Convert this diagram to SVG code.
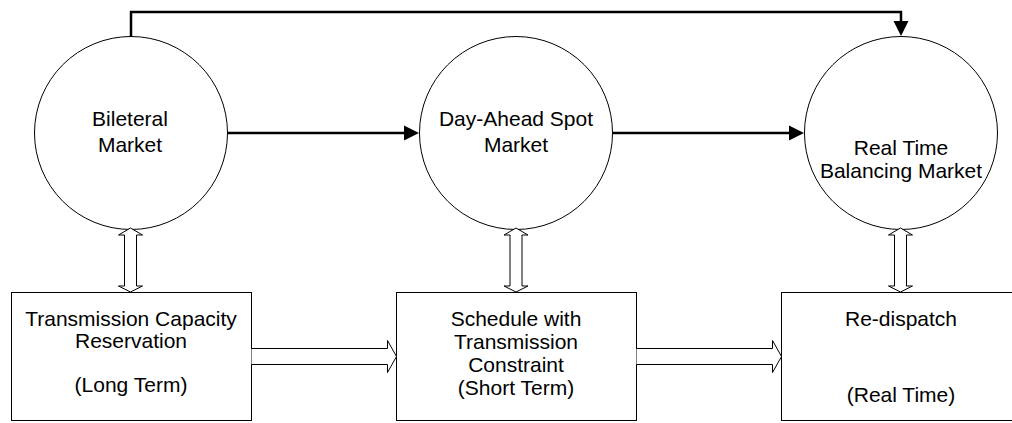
<svg xmlns="http://www.w3.org/2000/svg" width="1012" height="423" viewBox="0 0 1012 423">
  <style>
    .bg { fill: #ffffff; }
    .node { fill: #ffffff; stroke: #000000; stroke-width: 1; }
    .label { font-family: "Liberation Sans", Arial, sans-serif; font-size: 21px; fill: #000000; text-anchor: middle; }
    .flow { fill: none; stroke: #000000; stroke-width: 2.5; }
    .hollow { fill: #ffffff; stroke: #000000; stroke-width: 1; stroke-linejoin: miter; }
  </style>
  <defs>
    <marker id="head" markerUnits="userSpaceOnUse" markerWidth="16" markerHeight="16" refX="0" refY="8" orient="auto" viewBox="0 0 16 16">
      <path d="M0,0.5 L15,8 L0,15.5 Z" fill="#000000"/>
    </marker>
  </defs>

  <rect class="bg" x="0" y="0" width="1012" height="423"/>

  <!-- market nodes -->
  <g id="bilateral-market">
    <circle class="node" cx="131" cy="133" r="96.5"/>
    <text class="label" x="130" y="126">Bileteral</text>
    <text class="label" x="130" y="152">Market</text>
  </g>
  <g id="day-ahead-market">
    <circle class="node" cx="516" cy="133" r="96.5"/>
    <text class="label" x="516" y="126">Day-Ahead Spot</text>
    <text class="label" x="516" y="152">Market</text>
  </g>
  <g id="real-time-market">
    <circle class="node" cx="901" cy="133" r="96.5"/>
    <text class="label" x="901" y="155">Real Time</text>
    <text class="label" x="901" y="178">Balancing Market</text>
  </g>

  <!-- transmission nodes -->
  <g id="capacity-reservation">
    <rect class="node" x="11.5" y="292.5" width="240" height="128"/>
    <text class="label" x="131" y="326">Transmission Capacity</text>
    <text class="label" x="131" y="348">Reservation</text>
    <text class="label" x="131" y="392">(Long Term)</text>
  </g>
  <g id="constrained-schedule">
    <rect class="node" x="396.5" y="292.5" width="240" height="128"/>
    <text class="label" x="516" y="326">Schedule with</text>
    <text class="label" x="516" y="349">Transmission</text>
    <text class="label" x="516" y="372">Constraint</text>
    <text class="label" x="516" y="395">(Short Term)</text>
  </g>
  <g id="re-dispatch">
    <rect class="node" x="781.5" y="292.5" width="240" height="128"/>
    <text class="label" x="901" y="326">Re-dispatch</text>
    <text class="label" x="901" y="402">(Real Time)</text>
  </g>

  <!-- connectors -->
  <g id="connectors">
    <path class="flow" d="M131,37 V12 H901 V21" marker-end="url(#head)"/>
    <path class="flow" d="M228,133 H404" marker-end="url(#head)"/>
    <path class="flow" d="M613,133 H789" marker-end="url(#head)"/>

    <!-- two-way links between markets and transmission steps -->
    <path class="hollow" d="M130.5,228 L142.5,235 H136.5 V286 H142.5 L130.5,292 L118.5,286 H124.5 V235 H118.5 Z"/>
    <path class="hollow" d="M516,228 L528,235 H522 V286 H528 L516,292 L504,286 H510 V235 H504 Z"/>
    <path class="hollow" d="M900.5,228 L912.5,235 H906.5 V286 H912.5 L900.5,292 L888.5,286 H894.5 V235 H888.5 Z"/>

    <!-- hand-over between transmission steps -->
    <path class="hollow" d="M251.5,348.5 H387.5 V340.5 L396.5,356.5 L387.5,372.5 V364.5 H251.5"/>
    <path class="hollow" d="M636.5,348.5 H772.5 V340.5 L781.5,356.5 L772.5,372.5 V364.5 H636.5"/>
  </g>
</svg>
